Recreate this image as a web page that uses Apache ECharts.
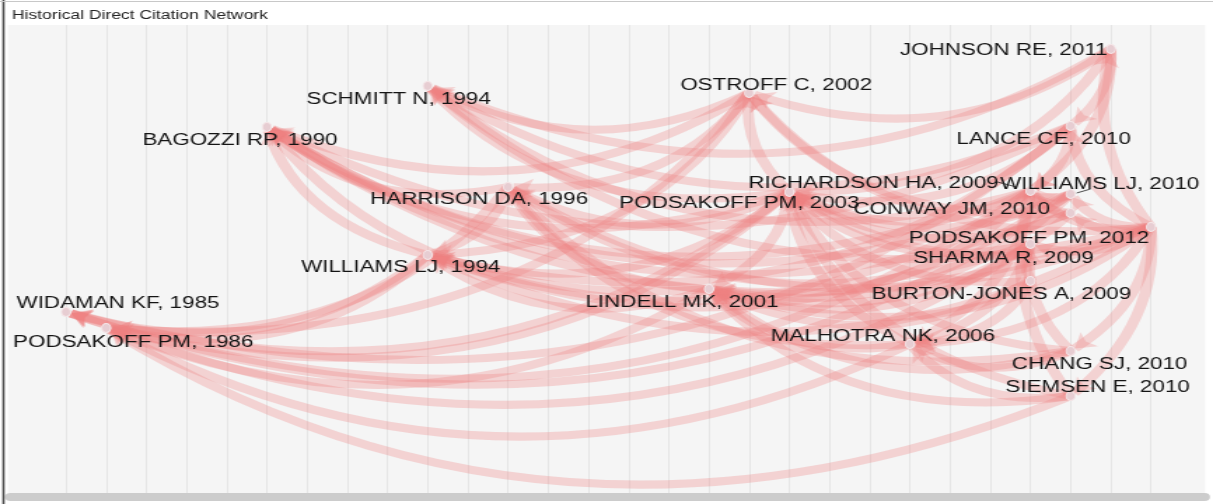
<!DOCTYPE html>
<html>
<head>
<meta charset="utf-8">
<script src="https://cdn.jsdelivr.net/npm/echarts@6/dist/echarts.min.js"></script>
<style>
  html, body { margin: 0; padding: 0; background: #ffffff; overflow: hidden; }
  #wrap { width: 866px; height: 504px; transform: scaleX(1.40069); transform-origin: 0 0; }
</style>
</head>
<body>
<div id="wrap"></div>
<script>
// ---- data ----
const papers = [
  'WIDAMAN KF, 1985', 'PODSAKOFF PM, 1986', 'BAGOZZI RP, 1990', 'SCHMITT N, 1994',
  'WILLIAMS LJ, 1994', 'HARRISON DA, 1996', 'LINDELL MK, 2001', 'OSTROFF C, 2002',
  'PODSAKOFF PM, 2003', 'MALHOTRA NK, 2006', 'RICHARDSON HA, 2009', 'SHARMA R, 2009',
  'BURTON-JONES A, 2009', 'WILLIAMS LJ, 2010', 'CONWAY JM, 2010', 'LANCE CE, 2010',
  'CHANG SJ, 2010', 'SIEMSEN E, 2010', 'JOHNSON RE, 2011', 'PODSAKOFF PM, 2012'
];
const years = [1985, 1986, 1990, 1994, 1994, 1996, 2001, 2002, 2003, 2006,
               2009, 2009, 2009, 2010, 2010, 2010, 2010, 2010, 2011, 2012];
// vertical layout row of each paper
const rows = [312, 328, 127, 86, 255, 187, 289, 93, 192, 344,
              191, 244, 281, 194, 213, 126, 351, 396, 49, 227];
// citing paper index -> cited paper index
const citations = [
  [4,0],[4,1],[4,2],
  [5,1],[5,4],[5,2],
  [6,1],[6,4],[6,5],[6,2],
  [7,1],[7,2],[7,4],[7,5],[7,3],
  [8,0],[8,1],[8,2],[8,3],[8,4],[8,5],[8,6],[8,7],
  [9,1],[9,6],[9,8],[9,5],
  [10,0],[10,2],[10,3],[10,4],[10,6],[10,8],[10,9],
  [11,1],[11,6],[11,8],[11,9],[11,5],
  [12,6],[12,8],[12,9],[12,11],
  [13,0],[13,2],[13,4],[13,6],[13,8],[13,10],
  [14,2],[14,6],[14,7],[14,8],[14,10],
  [15,0],[15,2],[15,3],[15,4],[15,8],[15,10],
  [16,6],[16,8],[16,9],[16,5],[16,11],
  [17,1],[17,6],[17,8],[17,9],[17,10],
  [18,3],[18,7],[18,8],[18,10],[18,15],
  [19,2],[19,3],[19,4],[19,5],[19,6],[19,7],[19,8],[19,9],[19,10],[19,11],
  [19,13],[19,14],[19,15],[19,16],[19,17],[19,18]
];
const yearMin = 1985, yearMax = 2012;

// ---- layout / style ----
const S = 1213 / 866;             // horizontal stretch of the reference picture
const PX_PER_YEAR = (1151 - 66) / (yearMax - yearMin);
const labelShift = [              // label offsets in picture pixels [dx, dy]
  [52,-8],[27,15],[-27,14],[-29,14],[-27,13],[-29,13],[-27,14],[27,-7],[-50,12],[-27,-7],
  [-157,-7],[-27,15],[-29,14],[29,-9],[-119,-3],[-27,14],[29,14],[27,-8],[-107,2],[-122,12]
];
const BEND = 0.25; // bend of the edges as seen in the picture

const nodes = papers.map((p, i) => ({
  name: p,
  value: [years[i], rows[i]],
  label: { offset: [labelShift[i][0] / S, labelShift[i][1]] }
}));
// curveness corrected for the horizontal stretch, so every edge bends alike on screen
const links = citations.map(c => {
  const dx = (years[c[0]] - years[c[1]]) * PX_PER_YEAR;
  const dy = rows[c[0]] - rows[c[1]];
  const L2 = dx * dx + dy * dy || 1;
  const k = BEND * (S * dx * dx / L2 + dy * dy / L2 / S);
  return { source: c[0], target: c[1], lineStyle: { curveness: k } };
});

const chart = echarts.init(document.getElementById('wrap'), null, { renderer: 'canvas' });
chart.setOption({
  backgroundColor: '#ffffff',
  animation: false,
  title: {
    text: 'Historical Direct Citation Network',
    left: 12 / S, top: 9, padding: 0,
    textStyle: { fontFamily: 'Liberation Sans, Arial, sans-serif', fontSize: 12.5, fontWeight: 'normal', color: '#222' }
  },
  graphic: [
    { type: 'rect', z: -100, silent: true, shape: { x: 8 / S, y: 25, width: (1205 - 8) / S, height: 468 }, style: { fill: '#f5f5f5' } },
    { type: 'rect', z: 100, silent: true, shape: { x: 5 / S, y: 493, width: 1205 / S, height: 8, r: 4 }, style: { fill: '#cccccc' } },
    { type: 'line', z: 100, silent: true, shape: { x1: 3.5 / S, y1: 0, x2: 3.5 / S, y2: 504 }, style: { stroke: '#4a4a4a', lineWidth: 1.6 } },
    { type: 'line', z: 100, silent: true, shape: { x1: 0, y1: 1.5, x2: 1213 / S, y2: 1.5 }, style: { stroke: '#c8c8c8', lineWidth: 1 } }
  ],
  grid: { left: 66 / S, right: 866 - 1151 / S, top: 25, bottom: 11 },
  xAxis: {
    type: 'value', min: yearMin, max: yearMax, interval: 1,
    axisLine: { show: false }, axisTick: { show: false }, axisLabel: { show: false },
    splitLine: { show: true, showMinLine: true, showMaxLine: true, lineStyle: { color: '#e3e3e3', width: 1 / S * 1.2 } }
  },
  yAxis: {
    type: 'value', min: 25, max: 493, inverse: true,
    axisLine: { show: false }, axisTick: { show: false }, axisLabel: { show: false },
    splitLine: { show: false }
  },
  series: [{
    type: 'graph',
    coordinateSystem: 'cartesian2d',
    layout: 'none',
    data: nodes,
    links: links,
    symbol: 'circle',
    symbolSize: [9 / S, 9],
    itemStyle: { color: '#e7cdd2', borderColor: '#f5e6e8', borderWidth: 1 },
    edgeSymbol: ['none', 'arrow'],
    edgeSymbolSize: [4, 14],
    lineStyle: { color: '#f08080', width: 8, opacity: 0.3, curveness: 0.3 },
    label: {
      show: true, position: 'inside',
      fontFamily: 'Liberation Sans, Arial, sans-serif', fontSize: 16, color: '#141414'
    },
    emphasis: { disabled: true }
  }]
});

// short leader lines next to the two crowded labels
function leader(i, a, b) {
  const p = chart.convertToPixel({ gridIndex: 0 }, [years[i], rows[i]]);
  return { type: 'line', z: 200, silent: true,
    shape: { x1: p[0] + a[0] / S, y1: p[1] + a[1], x2: p[0] + b[0] / S, y2: p[1] + b[1] },
    style: { stroke: '#222', lineWidth: 0.8 } };
}
chart.setOption({ graphic: [
  { type: 'rect', z: -100, silent: true, shape: { x: 8 / S, y: 25, width: (1205 - 8) / S, height: 468 }, style: { fill: '#f5f5f5' } },
  { type: 'rect', z: 100, silent: true, shape: { x: 5 / S, y: 493, width: 1205 / S, height: 8, r: 4 }, style: { fill: '#cccccc' } },
  { type: 'line', z: 100, silent: true, shape: { x1: 3.5 / S, y1: 0, x2: 3.5 / S, y2: 504 }, style: { stroke: '#4a4a4a', lineWidth: 1.6 } },
  { type: 'line', z: 100, silent: true, shape: { x1: 0, y1: 1.5, x2: 1213 / S, y2: 1.5 }, style: { stroke: '#c8c8c8', lineWidth: 1 } },
  leader(10, [-33, -9], [-14, -4]),
  leader(13, [6, -1], [20, -5])
] });
</script>
</body>
</html>
